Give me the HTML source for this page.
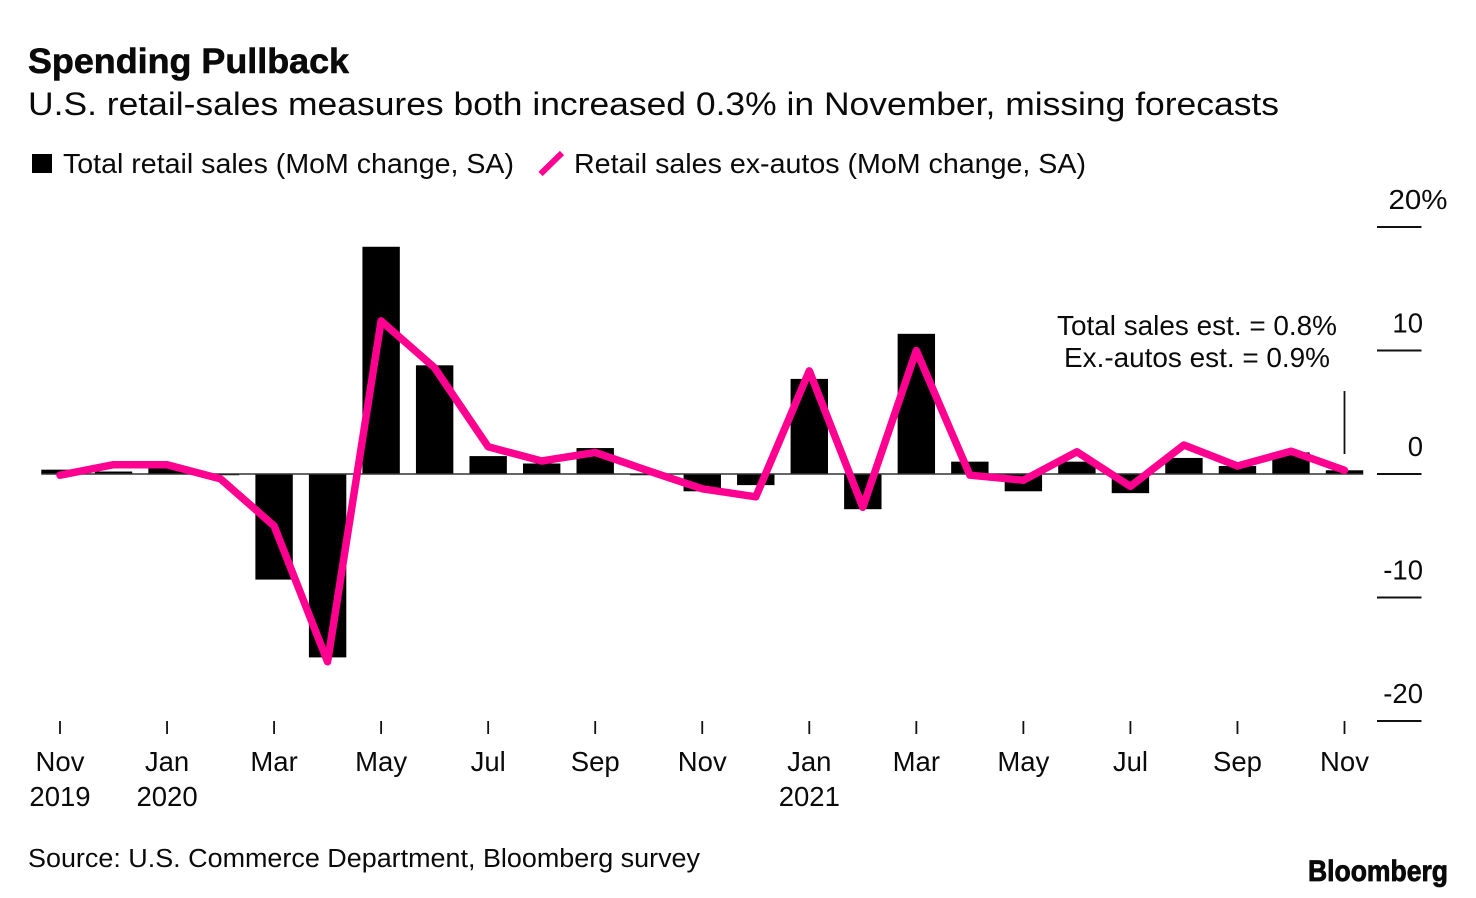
<!DOCTYPE html>
<html lang="en">
<head>
<meta charset="utf-8">
<title>Spending Pullback</title>
<style>
html,body{margin:0;padding:0;background:#fff;width:1476px;height:898px;overflow:hidden}
svg{display:block}
text{font-family:"Liberation Sans",sans-serif;fill:#0a0a0a}
</style>
</head>
<body>
<svg id="chart" xmlns="http://www.w3.org/2000/svg" width="1476" height="898" viewBox="0 0 1476 898">
  <rect x="0" y="0" width="1476" height="898" fill="#fff"/>
  <text x="28" y="73" font-size="35" font-weight="700" stroke="#0a0a0a" stroke-width="0.6" textLength="321" lengthAdjust="spacingAndGlyphs">Spending Pullback</text>
  <text x="28" y="115" font-size="32" textLength="1251" lengthAdjust="spacingAndGlyphs">U.S. retail-sales measures both increased 0.3% in November, missing forecasts</text>
  <rect x="32" y="154" width="20" height="19" fill="#000"/>
  <text x="63" y="173" font-size="28" textLength="451" lengthAdjust="spacingAndGlyphs">Total retail sales (MoM change, SA)</text>
  <line x1="540.5" y1="174" x2="562" y2="153" stroke="#ff0090" stroke-width="6"/>
  <text x="574" y="173" font-size="28" textLength="512" lengthAdjust="spacingAndGlyphs">Retail sales ex-autos (MoM change, SA)</text>
  <g id="y-axis"></g>
  <g id="bars"></g>
  <line id="zero-line" stroke="#333" stroke-width="1.5"/>
  <path id="ex-autos-line" fill="none" stroke="#ff0090" stroke-width="7.5" stroke-linejoin="round" stroke-linecap="round"/>
  <g id="x-axis"></g>
  <text x="1197" y="335" font-size="28" text-anchor="middle" textLength="280" lengthAdjust="spacingAndGlyphs">Total sales est. = 0.8%</text>
  <text x="1197" y="367" font-size="28" text-anchor="middle" textLength="266" lengthAdjust="spacingAndGlyphs">Ex.-autos est. = 0.9%</text>
  <line x1="1344.5" y1="391" x2="1344.5" y2="454" stroke="#111" stroke-width="1.8"/>
  <text x="28" y="867" font-size="25.5" textLength="672" lengthAdjust="spacingAndGlyphs">Source: U.S. Commerce Department, Bloomberg survey</text>
  <text x="1308" y="881" font-size="30" font-weight="700" stroke="#0a0a0a" stroke-width="0.8" textLength="140" lengthAdjust="spacingAndGlyphs">Bloomberg</text>
</svg>
<script>
var months = ['Nov 2019','Dec 2019','Jan 2020','Feb 2020','Mar 2020','Apr 2020','May 2020','Jun 2020','Jul 2020','Aug 2020','Sep 2020','Oct 2020','Nov 2020','Dec 2020','Jan 2021','Feb 2021','Mar 2021','Apr 2021','May 2021','Jun 2021','Jul 2021','Aug 2021','Sep 2021','Oct 2021','Nov 2021'];
var totalRetailSales = [0.35,0.2,0.6,-0.1,-8.55,-14.85,18.4,8.8,1.45,0.85,2.1,-0.1,-1.4,-0.9,7.7,-2.85,11.35,1.0,-1.4,1.0,-1.55,1.3,0.65,1.75,0.3];
var retailSalesExAutos = [-0.1,0.75,0.75,-0.4,-4.2,-15.2,12.4,8.6,2.2,1.05,1.75,0.25,-1.2,-1.85,8.35,-2.7,10.0,-0.1,-0.5,1.8,-1.0,2.35,0.65,1.85,0.3];
var yTickValues = [20,10,0,-10,-20];
var xTickMonths = ['Nov','','Jan','','Mar','','May','','Jul','','Sep','','Nov','','Jan','','Mar','','May','','Jul','','Sep','','Nov'];
var xTickYears = ['2019','','2020','','','','','','','','','','','','2021','','','','','','','','','',''];

var NS = 'http://www.w3.org/2000/svg';
function xScale(i){ return 60 + (1344.5 - 60) * i / (months.length - 1); }
function yScale(v){ return 474 - v * 12.35; }
function make(tag, parent){
  var el = document.createElementNS(NS, tag);
  parent.appendChild(el);
  return el;
}

var barsGroup = document.getElementById('bars');
var barWidth = 37.4;
totalRetailSales.forEach(function(v, i){
  var bar = make('rect', barsGroup);
  
  
  bar.setAttribute('x', xScale(i) - barWidth / 2);
  bar.setAttribute('y', Math.min(yScale(v), yScale(0)));
  bar.setAttribute('width', barWidth);
  bar.setAttribute('height', Math.abs(yScale(v) - yScale(0)));
  bar.setAttribute('fill', '#000');
});

var zero = document.getElementById('zero-line');
zero.setAttribute('x1', xScale(0) - barWidth / 2);
zero.setAttribute('x2', xScale(months.length - 1) + barWidth / 2);
zero.setAttribute('y1', yScale(0));
zero.setAttribute('y2', yScale(0));

var d = retailSalesExAutos.map(function(v, i){
  return (i ? 'L' : 'M') + xScale(i).toFixed(1) + ' ' + yScale(v).toFixed(1);
}).join(' ');
document.getElementById('ex-autos-line').setAttribute('d', d);

var yAxis = document.getElementById('y-axis');
yTickValues.forEach(function(v, i){
  var tick = make('line', yAxis);
  
  
  tick.setAttribute('x1', 1377);
  tick.setAttribute('x2', 1421.5);
  tick.setAttribute('y1', yScale(v));
  tick.setAttribute('y2', yScale(v));
  tick.setAttribute('stroke', '#111');
  tick.setAttribute('stroke-width', 2);
  var label = make('text', yAxis);
  
  
  label.setAttribute('x', i === 0 ? 1447.5 : 1423);
  label.setAttribute('y', yScale(v) - 18);
  label.setAttribute('text-anchor', 'end');
  label.setAttribute('font-size', 27.5);
  if (i === 0) {
    label.setAttribute('textLength', 59);
    label.setAttribute('lengthAdjust', 'spacingAndGlyphs');
  }
  label.textContent = i === 0 ? v + '%' : String(v);
});

var xAxis = document.getElementById('x-axis');
xTickMonths.forEach(function(m, i){
  if (!m) return;
  var tick = make('line', xAxis);
  
  
  tick.setAttribute('x1', xScale(i));
  tick.setAttribute('x2', xScale(i));
  tick.setAttribute('y1', 721);
  tick.setAttribute('y2', 734);
  tick.setAttribute('stroke', '#111');
  tick.setAttribute('stroke-width', 1.8);
  var label = make('text', xAxis);
  
  
  label.setAttribute('x', xScale(i));
  label.setAttribute('y', 771);
  label.setAttribute('text-anchor', 'middle');
  label.setAttribute('font-size', 27.5);
  label.textContent = m;
  if (xTickYears[i]) {
    var year = make('text', xAxis);
    
    
    year.setAttribute('x', xScale(i));
    year.setAttribute('y', 806);
    year.setAttribute('text-anchor', 'middle');
    year.setAttribute('font-size', 27.5);
    year.textContent = xTickYears[i];
  }
});
</script>
</body>
</html>
